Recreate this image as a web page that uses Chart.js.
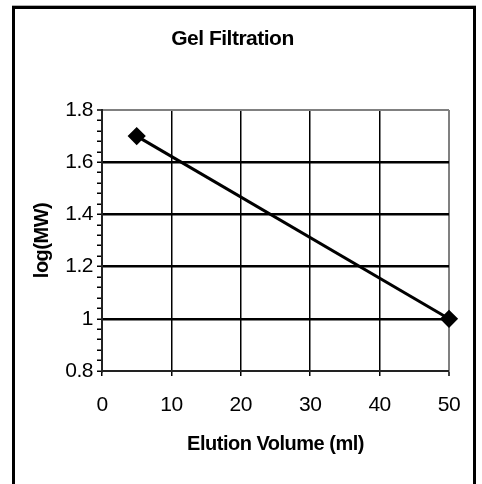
<!DOCTYPE html>
<html>
<head>
<meta charset="utf-8">
<script src="https://cdn.jsdelivr.net/npm/chart.js@4/dist/chart.umd.min.js"></script>
<style>
  html, body { margin: 0; padding: 0; background: #fff; overflow: hidden; }
  #frame {
    position: absolute; left: 12px; top: 6px; width: 464px; height: 500px;
    box-sizing: border-box; border: 3px solid #000; box-shadow: 0 -1px 0 #b0b0b0;
  }
  #chart { position: absolute; left: 0; top: 0; }
</style>
</head>
<body>
<div id="frame"></div>
<canvas id="chart" width="482" height="484"></canvas>
<script>
// Data
const elutionVolume = [5, 50];
const logMW = [1.7, 1.0];
const xTicks = [0, 10, 20, 30, 40, 50];
const yMajorTicks = [0.8, 1, 1.2, 1.4, 1.6, 1.8];

const FONT = "'Liberation Sans', Arial, Helvetica, sans-serif";
const points = elutionVolume.map((x, i) => ({ x: x, y: logMW[i] }));

const isMajorY = v => yMajorTicks.some(t => Math.abs(t - v) < 1e-6);

// the original text is rendered slightly condensed
const tightText = {
    id: 'tightText',
    beforeDraw(chart) {
        chart.ctx.letterSpacing = '-0.5px';
    }
};

new Chart(document.getElementById('chart'), {
    type: 'scatter',
    data: {
        datasets: [{
            data: points,
            showLine: true,
            borderColor: '#000',
            backgroundColor: '#000',
            borderWidth: 3,
            pointStyle: 'rectRot',
            pointRadius: 7,
            pointHoverRadius: 7,
            clip: false
        }]
    },
    plugins: [tightText],
    options: {
        responsive: false,
        animation: false,
        events: [],
        layout: { padding: { left: 16, right: 33, top: 0, bottom: 0 } },
        plugins: {
            legend: { display: false },
            tooltip: { enabled: false },
            title: {
                display: true,
                text: 'Gel Filtration',
                color: '#000',
                font: { family: FONT, size: 21, weight: 'bold', lineHeight: 1.2 },
                padding: { top: 26.9, bottom: 57.9 }
            }
        },
        scales: {
            x: {
                type: 'linear',
                min: 0,
                max: 50,
                afterFit: s => { s.height = 113; },
                afterBuildTicks: s => { s.ticks = xTicks.map(v => ({ value: v })); },
                ticks: {
                    color: '#000',
                    padding: 16.9,
                    maxRotation: 0,
                    autoSkip: false,
                    font: { family: FONT, size: 21 }
                },
                grid: {
                    color: c => c.tick && c.tick.value === 0 ? 'rgba(0,0,0,0)' : (c.tick && c.tick.value === 50 ? '#808080' : '#000'),
                    lineWidth: c => c.tick && c.tick.value === 50 ? 2 : 1.5,
                    tickColor: '#000',
                    tickWidth: 1.5,
                    tickLength: 5
                },
                border: { color: '#222', width: 2 },
                title: {
                    display: true,
                    text: 'Elution Volume (ml)',
                    color: '#000',
                    font: { family: FONT, size: 20, weight: 'bold', lineHeight: 1.2 },
                    padding: { top: 0, bottom: 27.5 }
                }
            },
            y: {
                min: 0.8,
                max: 1.8,
                afterFit: s => { s.width = 86; },
                ticks: {
                    stepSize: 0.04,
                    maxTicksLimit: 100,
                    autoSkip: false,
                    color: '#000',
                    padding: 4,
                    font: { family: FONT, size: 21 },
                    callback: v => isMajorY(v) ? String(+v.toFixed(1)) : ''
                },
                grid: {
                    color: c => {
                        const v = c.tick ? c.tick.value : null;
                        if (v === null || !isMajorY(v) || Math.abs(v - 0.8) < 1e-6) return 'rgba(0,0,0,0)';
                        if (Math.abs(v - 1.8) < 1e-6) return '#808080';
                        return '#000';
                    },
                    lineWidth: c => c.tick && Math.abs(c.tick.value - 1.8) < 1e-6 ? 2 : 2.5,
                    tickColor: '#000',
                    tickWidth: 1.5,
                    tickLength: 5
                },
                border: { color: '#222', width: 2 },
                title: {
                    display: true,
                    text: 'log(MW)',
                    color: '#000',
                    font: { family: FONT, size: 20, weight: 'bold', lineHeight: 1.2 },
                    padding: { top: 14, bottom: 0 }
                }
            }
        }
    }
});
</script>
</body>
</html>
